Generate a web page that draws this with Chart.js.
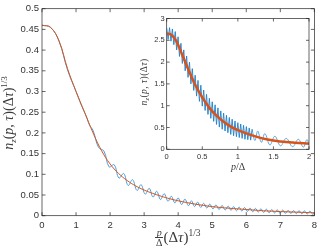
<!DOCTYPE html>
<html>
<head>
<meta charset="utf-8">
<script src="https://cdn.jsdelivr.net/npm/chart.js@4.4.1/dist/chart.umd.min.js"></script>
<style>
  body { margin: 0; background: #fff; }
  #wrap { position: relative; width: 321px; height: 247px; overflow: hidden; background: #fff; }
  canvas { position: absolute; }
  .lbl { position: absolute; font-family: "Liberation Serif", serif; font-weight: 400; color: #3a3a3a; white-space: nowrap; }
  .lbl i { font-style: italic; }
</style>
</head>
<body>
<div id="wrap">
  <canvas id="main" width="321" height="247" style="left:0;top:0"></canvas>
  <canvas id="inset" width="185" height="170" style="left:130px;top:10px"></canvas>

  <!-- main y label -->
  <div class="lbl" id="ylab" style="left:-71px;top:104px;width:160px;height:18px;text-align:center;font-size:14px;line-height:18px;transform:rotate(-90deg);">
    <i>n</i><span style="font-size:9px;position:relative;top:3px"><i>z</i></span>(<i>p</i>, <i>τ</i>)(Δ<i>τ</i>)<span style="font-size:9px;position:relative;top:-6px">1/3</span>
  </div>

  <!-- main x label -->
  <div class="lbl" id="xlab" style="left:155px;top:227px;height:20px;font-size:15px;line-height:20px;">
    <span style="display:inline-block;vertical-align:middle;text-align:center;font-size:10px;line-height:9px;position:relative;top:-1px"><i>p</i><br><span style="display:inline-block;border-top:0.8px solid #3a3a3a;padding:0 1px">Δ</span></span>(Δ<i>τ</i>)<span style="font-size:9.5px;position:relative;top:-6px">1/3</span>
  </div>

  <!-- inset y label -->
  <div class="lbl" id="ylab2" style="left:104px;top:76px;width:80px;height:12px;text-align:center;font-size:9.5px;line-height:12px;letter-spacing:0.4px;transform:rotate(-90deg);">
    <i>n</i><span style="font-size:6.5px;position:relative;top:2px"><i>z</i></span>(<i>p</i>, <i>τ</i>)(Δ<i>τ</i>)
  </div>

  <!-- inset x label -->
  <div class="lbl" id="xlab2" style="left:231px;top:160px;font-size:10px;line-height:13px;">
    <i>p</i>/Δ
  </div>
</div>

<script>
// main panel: smooth (red) curve
const mainRedX = [0, 0.25, 0.5, 0.75, 1.0, 1.25, 1.5, 1.75, 2.0, 2.25, 2.5, 2.75, 3.0, 3.25, 3.5, 3.75, 4.0, 4.5, 5.0, 5.5, 6.0, 6.5, 7.0, 7.5, 8.0];
const mainRedY = [0.460, 0.455, 0.422, 0.355, 0.300, 0.250, 0.200, 0.157, 0.125, 0.102, 0.085, 0.072, 0.062, 0.054, 0.047, 0.041, 0.036, 0.028, 0.022, 0.018, 0.015, 0.012, 0.010, 0.0085, 0.007];

// main panel: oscillating (blue) curve
const mainBlueX = [0, 0.25, 0.5, 0.75, 1.0, 1.15, 1.3, 1.4,
  1.50, 1.66, 1.82, 1.97, 2.12, 2.26, 2.40, 2.53, 2.66, 2.79, 2.91, 3.03, 3.15, 3.26, 3.37, 3.48, 3.59, 3.70, 3.80, 3.90,
  4.00, 4.10, 4.20, 4.30, 4.39, 4.48, 4.57, 4.66, 4.75, 4.84, 4.93, 5.02, 5.11, 5.20, 5.29, 5.38, 5.47, 5.55, 5.63, 5.71,
  5.79, 5.87, 5.95, 6.03, 6.11, 6.19, 6.27, 6.35, 6.43, 6.51, 6.59, 6.67, 6.75, 6.83, 6.91, 6.99, 7.07, 7.15, 7.23, 7.31,
  7.39, 7.47, 7.55, 7.63, 7.71, 7.79, 7.87, 7.95, 8.00];
const mainBlueY = [0.460, 0.455, 0.422, 0.352, 0.300, 0.268, 0.240, 0.218,
  0.206, 0.165, 0.156, 0.118, 0.123, 0.091, 0.102, 0.073, 0.087, 0.061, 0.075, 0.052, 0.066, 0.045, 0.059, 0.039, 0.053, 0.035, 0.047, 0.031,
  0.043, 0.027, 0.040, 0.024, 0.036, 0.022, 0.033, 0.020, 0.030, 0.0185, 0.028, 0.0165, 0.026, 0.015, 0.0247, 0.0138, 0.0232, 0.0128, 0.022, 0.0119,
  0.0208, 0.0111, 0.0198, 0.0103, 0.0186, 0.0095, 0.0176, 0.0086, 0.0166, 0.0078, 0.0157, 0.0072, 0.0149, 0.0067, 0.0142, 0.0061, 0.0136, 0.0058, 0.0129, 0.0054,
  0.0124, 0.0049, 0.0120, 0.0046, 0.0116, 0.0041, 0.0111, 0.0036, 0.007];

const mainXTicks = [0, 1, 2, 3, 4, 5, 6, 7, 8];
const mainYTicks = [0, 0.05, 0.1, 0.15, 0.2, 0.25, 0.3, 0.35, 0.4, 0.45, 0.5];

// inset panel
const insetRedX = [0, 0.05, 0.1, 0.15, 0.2, 0.3, 0.4, 0.5, 0.6, 0.7, 0.8, 0.9, 1.0, 1.2, 1.4, 1.6, 1.8, 2.0];
const insetRedY = [2.65, 2.64, 2.57, 2.43, 2.24, 1.85, 1.48, 1.19, 0.95, 0.77, 0.63, 0.52, 0.44, 0.32, 0.23, 0.18, 0.15, 0.13];

// fast oscillation part of the inset blue curve
const insetFastX = [0.00, 0.02, 0.04, 0.06, 0.08, 0.10, 0.12, 0.14, 0.16, 0.18, 0.20, 0.22, 0.24, 0.26, 0.28, 0.30,
  0.32, 0.34, 0.36, 0.38, 0.40, 0.42, 0.44, 0.46, 0.48, 0.50, 0.52, 0.54, 0.56, 0.58, 0.60, 0.62, 0.64, 0.66, 0.68, 0.70,
  0.72, 0.74, 0.76, 0.78, 0.80, 0.82, 0.84, 0.86, 0.88, 0.90, 0.92, 0.94, 0.96, 0.98, 1.00, 1.02, 1.04, 1.06, 1.08, 1.10,
  1.12, 1.14, 1.16, 1.18, 1.20];
const insetFastY = [2.78, 2.52, 2.79, 2.48, 2.76, 2.40, 2.70, 2.28, 2.58, 2.13, 2.43, 1.97, 2.28, 1.80, 2.14, 1.65,
  2.00, 1.50, 1.85, 1.35, 1.70, 1.22, 1.58, 1.10, 1.47, 0.99, 1.36, 0.89, 1.26, 0.80, 1.17, 0.71, 1.09, 0.64, 1.02, 0.57,
  0.95, 0.51, 0.88, 0.46, 0.83, 0.42, 0.78, 0.38, 0.73, 0.34, 0.69, 0.31, 0.65, 0.29, 0.61, 0.27, 0.58, 0.25, 0.55, 0.23,
  0.52, 0.22, 0.49, 0.21, 0.46];

// slow oscillation tail of the inset blue curve
const insetSlowX = [1.20, 1.24, 1.28, 1.33, 1.38, 1.45, 1.52, 1.60, 1.68, 1.77, 1.85, 1.92, 1.97, 2.00];
const insetSlowY = [0.46, 0.20, 0.42, 0.16, 0.36, 0.10, 0.30, 0.08, 0.25, 0.06, 0.23, 0.05, 0.22, 0.10];

const insetXTicks = [0, 0.5, 1, 1.5, 2];
const insetYTicks = [0, 0.5, 1, 1.5, 2, 2.5, 3];

const RED = "#d95319";
const BLUE = "#4a9fdd";
const INK = "#262626";

const pts = (xs, ys) => xs.map((x, i) => ({ x: x, y: ys[i] }));

// box around the plot area with inward ticks on all four sides
const boxPlugin = {
  id: "box",
  beforeDraw(chart, args, opts) {
    const a = chart.chartArea;
    const ctx = chart.ctx;
    ctx.save();
    ctx.fillStyle = "#fff";
    ctx.fillRect(a.left, a.top, a.right - a.left, a.bottom - a.top);
    ctx.restore();
  },
  afterDraw(chart, args, opts) {
    const { ctx, chartArea: a, scales } = chart;
    const len = opts.len || 3;
    ctx.save();
    ctx.strokeStyle = INK;
    ctx.lineWidth = 0.7;
    ctx.beginPath();
    scales.x.ticks.forEach((t) => {
      const px = scales.x.getPixelForValue(t.value);
      ctx.moveTo(px, a.bottom);
      ctx.lineTo(px, a.bottom - len);
      ctx.moveTo(px, a.top);
      ctx.lineTo(px, a.top + len);
    });
    scales.y.ticks.forEach((t) => {
      const py = scales.y.getPixelForValue(t.value);
      ctx.moveTo(a.left, py);
      ctx.lineTo(a.left + len, py);
      ctx.moveTo(a.right, py);
      ctx.lineTo(a.right - len, py);
    });
    ctx.stroke();
    ctx.strokeRect(a.left, a.top, a.right - a.left, a.bottom - a.top);
    ctx.restore();
  },
};

function axis(min, max, ticks, fontSize, pad, fit) {
  return {
    type: "linear",
    min: min,
    max: max,
    grid: { display: false, drawTicks: false },
    border: { display: false },
    afterBuildTicks: (s) => {
      s.ticks = ticks.map((v) => ({ value: v }));
    },
    afterFit: fit,
    ticks: {
      color: "#333",
      padding: pad,
      maxRotation: 0,
      autoSkip: false,
      font: { family: "Liberation Sans", size: fontSize },
      callback: (v) => String(v),
    },
  };
}

new Chart(document.getElementById("main"), {
  type: "line",
  data: {
    datasets: [
      {
        data: pts(mainRedX, mainRedY),
        borderColor: RED,
        borderWidth: 1,
        pointRadius: 0,
        tension: 0.4,
      },
      {
        data: pts(mainBlueX, mainBlueY),
        borderColor: BLUE,
        borderWidth: 1,
        pointRadius: 0,
        tension: 0.4,
      },
    ],
  },
  options: {
    responsive: false,
    animation: false,
    devicePixelRatio: 1,
    layout: { padding: { left: 0, top: 4, right: 3, bottom: 0 } },
    plugins: { legend: { display: false }, tooltip: { enabled: false }, box: { len: 3.5 } },
    scales: {
      x: axis(0, 8, mainXTicks, 9.5, 4, (s) => { s.height = 31.3; }),
      y: axis(0, 0.5, mainYTicks, 9.5, 3, (s) => { s.width = 42; }),
    },
  },
  plugins: [boxPlugin],
});

new Chart(document.getElementById("inset"), {
  type: "line",
  data: {
    datasets: [
      {
        data: pts(insetRedX, insetRedY),
        borderColor: RED,
        borderWidth: 2.5,
        pointRadius: 0,
        tension: 0.4,
      },
      {
        data: pts(insetFastX, insetFastY),
        borderColor: "#1f7fca",
        borderWidth: 0.9,
        pointRadius: 0,
        tension: 0,
      },
      {
        data: pts(insetSlowX, insetSlowY),
        borderColor: BLUE,
        borderWidth: 0.9,
        pointRadius: 0,
        tension: 0.4,
      },
    ],
  },
  options: {
    responsive: false,
    animation: false,
    devicePixelRatio: 1,
    layout: { padding: { left: 0, top: 8.5, right: 6, bottom: 0 } },
    plugins: { legend: { display: false }, tooltip: { enabled: false }, box: { len: 3 } },
    scales: {
      x: axis(0, 2, insetXTicks, 7.5, 3, (s) => { s.height = 30.7; }),
      y: axis(0, 3, insetYTicks, 7.5, 2, (s) => { s.width = 36.7; }),
    },
  },
  plugins: [boxPlugin],
});
</script>
</body>
</html>
